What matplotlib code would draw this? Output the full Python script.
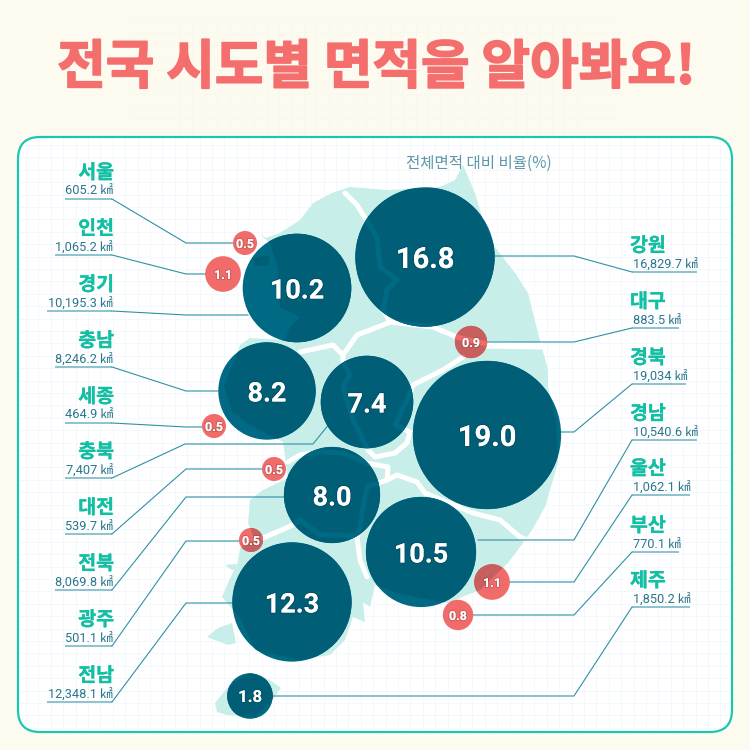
import matplotlib
matplotlib.use("Agg")
import matplotlib.pyplot as plt
import matplotlib.patheffects as pe
import numpy as np
from matplotlib.patches import Circle, FancyBboxPatch, Polygon

# data
left_names = ["서울", "인천", "경기", "충남", "세종", "충북", "대전", "전북", "광주", "전남"]
left_areas = [605.2, 1065.2, 10195.3, 8246.2, 464.9, 7407, 539.7, 8069.8, 501.1, 12348.1]
left_shares = [0.5, 1.1, 10.2, 8.2, 0.5, 7.4, 0.5, 8.0, 0.5, 12.3]

right_names = ["강원", "대구", "경북", "경남", "울산", "부산", "제주"]
right_areas = [16829.7, 883.5, 19034, 10540.6, 1062.1, 770.1, 1850.2]
right_shares = [16.8, 0.9, 19.0, 10.5, 1.1, 0.8, 1.8]

title = "전국 시도별 면적을 알아봐요!"
subtitle = "전체면적 대비 비율(%)"

# layout in pixels: bubble centres
left_centers = [(245, 243), (223, 274), (297, 288), (267, 391), (214, 426),
                (367, 402), (274, 469), (332, 495), (251, 540), (292, 602)]
right_centers = [(425, 257), (471, 342), (487, 435), (421, 552), (492, 582), (458, 615), (250, 696)]

# left label underline y, start x, elbow y, leader end x
left_under_y = [199, 255, 311, 367, 423, 478, 534, 590, 646, 702]
left_under_x = [65, 55, 47, 55, 65, 65, 65, 55, 65, 47]
left_elbow_y = [243, 274, 315, 391, 427, 444, 469, 497, 541, 603]
left_end_x = [233, 206, 248, 218, 203, 313, 262, 285, 239, 232]

right_under_y = [272, 328, 384, 440, 495, 552, 607]
right_under_x = [697, 679, 686, 697, 690, 679, 690]
right_elbow_y = [256, 342, 432, 540, 582, 615, 696]
right_end_x = [495, 483, 560, 478, 508, 472, 273]

# map outline
mainland = [(258, 233), (266, 238), (280, 233), (300, 220), (313, 203), (332, 193), (350, 187),
            (387, 190), (440, 187), (455, 180), (463, 165), (475, 193), (482, 217), (495, 247),
            (515, 273), (528, 293), (538, 333), (548, 370), (548, 387), (556, 420), (558, 463),
            (545, 507), (532, 530), (523, 543), (508, 563), (480, 590), (462, 597), (448, 603),
            (420, 598), (395, 592), (375, 585), (370, 607), (363, 602), (365, 622), (353, 617),
            (345, 640), (330, 655), (300, 660), (277, 655), (255, 650), (240, 618), (222, 597),
            (228, 583), (238, 562), (240, 548), (255, 540), (248, 523), (250, 500), (263, 490),
            (288, 478), (283, 442), (250, 425), (232, 412), (224, 385), (235, 360), (240, 345),
            (250, 338), (285, 340), (290, 327), (300, 317), (280, 307), (278, 270), (270, 243)]
islands = [
    [(207, 637), (218, 628), (232, 623), (236, 643), (228, 645), (215, 640)],
    [(225, 565), (235, 564), (240, 568), (232, 570)],
    [(252, 258), (268, 255), (270, 265), (256, 266)],
    [(215, 703), (223, 693), (230, 685), (250, 673), (270, 680), (281, 688), (272, 700),
     (255, 717), (227, 715), (217, 712)],
]
borders = [
    [(345, 193), (357, 205), (377, 237), (380, 267), (397, 280), (387, 290), (383, 310), (390, 322)],
    [(300, 352), (333, 345), (343, 355), (357, 335), (383, 325), (390, 322), (433, 327), (457, 337),
     (487, 344), (540, 346)],
    [(463, 357), (443, 370), (413, 385), (407, 400), (395, 425), (410, 432), (407, 443), (395, 453),
     (375, 457), (368, 450), (353, 420), (343, 387), (350, 375), (343, 362), (343, 355)],
    [(288, 462), (300, 455), (320, 452), (343, 453), (367, 463), (388, 467), (387, 480),
     (397, 475), (417, 482), (425, 493), (473, 513), (500, 520), (520, 537), (527, 540)],
    [(387, 480), (367, 487), (363, 507), (360, 527), (357, 537), (360, 560), (367, 577)],
    [(263, 538), (293, 525), (300, 520), (320, 535), (345, 535), (357, 537)],
]

MAP_COLOR = "#C8EEEA"
TEAL_BASE = "#006A84"
TEAL_MAP = "#005F77"
RED_BASE = "#F26B6B"
RED_MAP = "#C75F5F"
NAME_COLOR = "#12BFA3"
VALUE_COLOR = "#2A768C"
LEADER = "#2E8FA5"
UNDERLINE = "#8FC3CF"
KR = "Noto Sans CJK KR"
PX = 0.72


def bubble_radius(share):
    return 17 * np.sqrt(share)


def bubble_fontsize(share):
    if share >= 16:
        return 21
    if share >= 5:
        return 19.5
    if share >= 1.5:
        return 12
    return 9


def draw_bubble(ax, center, share):
    big = share >= 1.5
    circle = Circle(center, bubble_radius(share), fc=TEAL_BASE if big else RED_BASE, ec="none", zorder=4)
    ax.add_patch(circle)
    # multiply look: land shows darker through the bubble
    for shape in [mainland] + islands:
        land = Polygon(shape, closed=True, fc=TEAL_MAP if big else RED_MAP, ec="none", zorder=4.1)
        ax.add_patch(land)
        land.set_clip_path(circle)
    for line in borders:
        xs, ys = zip(*line)
        l, = ax.plot(xs, ys, color=TEAL_BASE if big else RED_BASE, lw=5 * PX, zorder=4.2,
                     solid_capstyle="round", solid_joinstyle="round")
        l.set_clip_path(circle)
    txt = ax.text(center[0], center[1], f"{share:.1f}", color="white", fontsize=bubble_fontsize(share),
                  family="Roboto", weight="bold", ha="center", va="center_baseline", zorder=6)
    txt.set_path_effects([pe.withStroke(linewidth=1.6, foreground="#00000022")])


def draw_leader(ax, xs, ys, under):
    ax.plot(under[0], under[1], color=UNDERLINE, lw=2 * PX, zorder=3, solid_capstyle="butt")
    ax.plot(xs, ys, color=LEADER, lw=1.1 * PX, zorder=3, solid_joinstyle="miter")


fig = plt.figure(figsize=(7.5, 7.5), dpi=100, facecolor="#FDFAF0")
ax = fig.add_axes([0, 0, 1, 1])
ax.set_xlim(0, 750)
ax.set_ylim(750, 0)
ax.axis("off")

# page grid, only a hint of it behind the title
for v in np.arange(180, 580, 12.4):
    ax.plot([v, v], [20, 137], color="#F9F8EE", lw=0.6, zorder=0.5)
for v in np.arange(20, 137, 12.4):
    ax.plot([130, 620], [v, v], color="#F9F8EE", lw=0.6, zorder=0.5)

r = 22
panel = FancyBboxPatch((18 + r, 137 + r), 714 - 2 * r, 595 - 2 * r,
                       boxstyle=f"round,pad={r},rounding_size={r}",
                       fc="white", ec="none", zorder=1)
ax.add_patch(panel)
for v in np.arange(26, 732, 12.4):
    l, = ax.plot([v, v], [137, 732], color="#F3F8FC", lw=0.7, zorder=1.1)
    l.set_clip_path(panel)
for v in np.arange(145, 732, 12.4):
    l, = ax.plot([18, 732], [v, v], color="#F3F8FC", lw=0.7, zorder=1.1)
    l.set_clip_path(panel)
ax.add_patch(FancyBboxPatch((18 + r, 137 + r), 714 - 2 * r, 595 - 2 * r,
                            boxstyle=f"round,pad={r},rounding_size={r}",
                            fc="none", ec="#1CC7B0", lw=1.6, zorder=1.2))

# map
for shape in [mainland] + islands:
    ax.add_patch(Polygon(shape, closed=True, fc=MAP_COLOR, ec="none", zorder=2))
for line in borders:
    xs, ys = zip(*line)
    ax.plot(xs, ys, color="white", lw=5 * PX, zorder=2.1, solid_capstyle="round", solid_joinstyle="round")
ax.plot([480, 540], [345, 346], color="white", lw=7 * PX, zorder=2.1)

# title
t = ax.text(376, 68, title, color="#F46E6E", fontsize=38, family=KR, weight="black",
            ha="center", va="center")
t.set_path_effects([pe.withStroke(linewidth=1.2, foreground="#F46E6E")])
ax.text(479, 163, subtitle, color="#5E97A8", fontsize=11.2, family=KR, weight="light",
        ha="center", va="center", zorder=5)

name_stroke = [pe.withStroke(linewidth=0.2, foreground=NAME_COLOR)]

# left column
for i, name in enumerate(left_names):
    uy = left_under_y[i]
    ax.text(114, uy - 26, name, color=NAME_COLOR, fontsize=14, family=KR, weight="bold",
            ha="right", va="center", zorder=5, path_effects=name_stroke)
    ax.text(113, uy - 8, f"{left_areas[i]:,g} ㎢", color=VALUE_COLOR, fontsize=9.2,
            family=["Roboto", KR], ha="right", va="center", zorder=5)
    if name == "충북":
        xs = [112, 185, 313, 330]
        ys = [uy, left_elbow_y[i], left_elbow_y[i], 423]
    else:
        xs = [112, 186, left_end_x[i]]
        ys = [uy, left_elbow_y[i], left_elbow_y[i]]
    draw_leader(ax, xs, ys, ([left_under_x[i], 112], [uy, uy]))

# right column
for i, name in enumerate(right_names):
    uy = right_under_y[i]
    ax.text(630, uy - 26, name, color=NAME_COLOR, fontsize=14, family=KR, weight="bold",
            ha="left", va="center", zorder=5, path_effects=name_stroke)
    ax.text(633, uy - 8, f"{right_areas[i]:,g} ㎢", color=VALUE_COLOR, fontsize=9.2,
            family=["Roboto", KR], ha="left", va="center", zorder=5)
    xs = [right_end_x[i], 574, 632]
    ys = [right_elbow_y[i], right_elbow_y[i], uy]
    draw_leader(ax, xs, ys, ([632, right_under_x[i]], [uy, uy]))

# bubbles
for center, share in zip(left_centers + right_centers, left_shares + right_shares):
    draw_bubble(ax, center, share)

fig.savefig("out.png", dpi=100, facecolor=fig.get_facecolor())
